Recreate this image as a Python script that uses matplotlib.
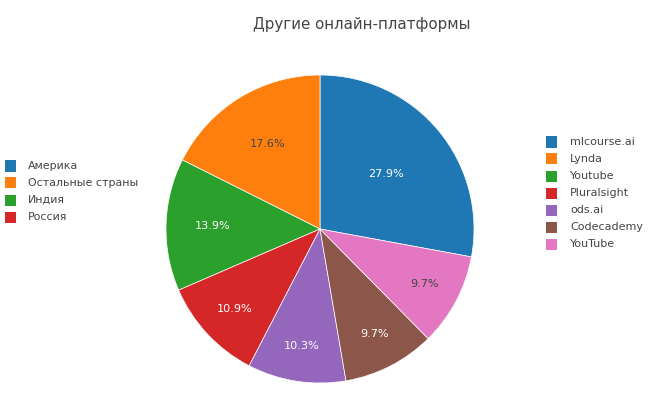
import matplotlib
matplotlib.use('Agg')
from matplotlib import pyplot as plt
from matplotlib.patches import Rectangle
import numpy as np

# data
platforms = ['mlcourse.ai', 'Lynda', 'Youtube', 'Pluralsight', 'ods.ai', 'Codecademy', 'YouTube']
shares = [27.9, 17.6, 13.9, 10.9, 10.3, 9.7, 9.7]
colors = ['#1f77b4', '#ff7f0e', '#2ca02c', '#d62728', '#9467bd', '#8c564b', '#e377c2']
countries = ['Америка', 'Остальные страны', 'Индия', 'Россия']
country_colors = ['#1f77b4', '#ff7f0e', '#2ca02c', '#d62728']

title = 'Другие онлайн-платформы'
text_dark = '#444444'

# where the percent labels sit inside each slice (fraction of radius)
label_r = [0.56, 0.65, 0.70, 0.76, 0.77, 0.77, 0.77]
dark_text = [False, True, False, False, False, False, True]

W, H = 657, 399
fig = plt.figure(figsize=(W / 100, H / 100), dpi=100)
plt.rcParams['font.family'] = ['DejaVu Sans']

cx, cy, r = 320, 229, 154
ax = fig.add_axes([(cx - r) / W, (H - cy - r) / H, 2 * r / W, 2 * r / H])
start = 90 - 360 * shares[0] / sum(shares)
wedges, texts, autotexts = ax.pie(shares, colors=colors, startangle=start,
                                  counterclock=True, radius=1, autopct='%1.1f%%',
                                  wedgeprops=dict(edgecolor='white', linewidth=0.5),
                                  textprops=dict(fontsize=8.1))
for i, (w, t) in enumerate(zip(wedges, autotexts)):
    mid = np.deg2rad((w.theta1 + w.theta2) / 2)
    t.set_position((label_r[i] * np.cos(mid), label_r[i] * np.sin(mid)))
    t.set_color(text_dark if dark_text[i] else 'white')
    t.set_ha('center')
    t.set_va('center')
ax.set_xlim(-1, 1)
ax.set_ylim(-1, 1)
ax.set_aspect('auto')
ax.axis('off')

fig.text(362 / W, 1 - 24 / H, title, ha='center', va='center', fontsize=10.8, color=text_dark)

# left legend
for i, (lab, c) in enumerate(zip(countries, country_colors)):
    y = 166 + i * 17
    fig.patches.append(Rectangle((5 / W, 1 - (y + 5.5) / H), 11 / W, 11 / H,
                                 transform=fig.transFigure, facecolor=c, edgecolor='none'))
    fig.text(28 / W, 1 - y / H, lab, ha='left', va='center', fontsize=7.9, color=text_dark)

# right legend
for i, (lab, c) in enumerate(zip(platforms, colors)):
    y = 142 + i * 17
    fig.patches.append(Rectangle((546 / W, 1 - (y + 5.5) / H), 11 / W, 11 / H,
                                 transform=fig.transFigure, facecolor=c, edgecolor='none'))
    fig.text(570 / W, 1 - y / H, lab, ha='left', va='center', fontsize=8.0, color=text_dark)

plt.savefig('out.png', dpi=100)
